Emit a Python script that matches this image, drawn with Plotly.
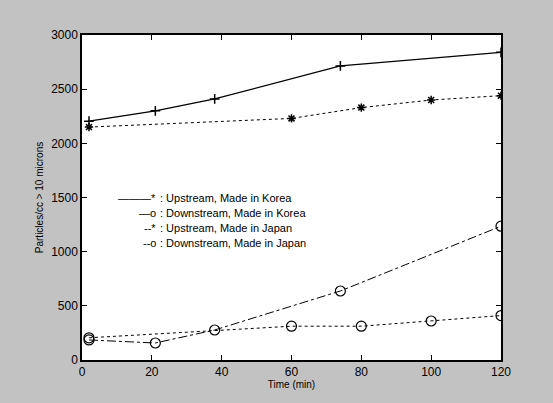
import plotly.graph_objects as go

# Data
x_korea = [2, 21, 38, 74, 120]
up_korea = [2205, 2300, 2410, 2715, 2840]
down_korea = [185, 157, 277, 637, 1235]

x_japan = [2, 60, 80, 100, 120]
up_japan = [2150, 2230, 2330, 2400, 2440]
down_japan = [205, 312, 312, 360, 410]

x_ticks = [0, 20, 40, 60, 80, 100, 120]
y_ticks = [0, 500, 1000, 1500, 2000, 2500, 3000]

legend_keys = ["\u2014\u2014\u2014*", "\u2014o", "--*", "--o"]
legend_texts = [": Upstream, Made in Korea", ": Downstream, Made in Korea",
                ": Upstream, Made in Japan", ": Downstream, Made in Japan"]

W, H = 553, 403
L, R, T, B = 82, 52, 35, 43

fig = go.Figure()
fig.add_trace(go.Scatter(x=x_korea, y=up_korea, name=legend_texts[0], mode="lines+markers",
                         line=dict(color="black", width=1.2, dash="solid"),
                         marker=dict(symbol="cross-thin-open", size=7, color="black",
                                     line=dict(color="black", width=1.5))))
fig.add_trace(go.Scatter(x=x_korea, y=down_korea, name=legend_texts[1], mode="lines+markers",
                         line=dict(color="black", width=1, dash="dashdot"),
                         marker=dict(symbol="circle-open", size=10, color="black",
                                     line=dict(color="black", width=1.2))))
fig.add_trace(go.Scatter(x=x_japan, y=up_japan, name=legend_texts[2], mode="lines+markers",
                         line=dict(color="black", width=1, dash="dot"),
                         marker=dict(symbol="asterisk-open", size=7, color="black",
                                     line=dict(color="black", width=1.5))))
fig.add_trace(go.Scatter(x=x_japan, y=down_japan, name=legend_texts[3], mode="lines+markers",
                         line=dict(color="black", width=1, dash="dot"),
                         marker=dict(symbol="circle-open", size=10, color="black",
                                     line=dict(color="black", width=1.2))))

# text legend (as in the original figure)
ph = H - T - B
pw = W - L - R
legend_py = [198, 213, 228, 243]
for key, txt, py in zip(legend_keys, legend_texts, legend_py):
    yp = (H - B - py) / ph
    fig.add_annotation(xref="paper", yref="paper", x=(158 - L) / pw, y=yp,
                       text=key, showarrow=False, xanchor="right", yanchor="middle",
                       font=dict(size=11, color="black"))
    fig.add_annotation(xref="paper", yref="paper", x=(158 - L) / pw, y=yp,
                       text=txt, showarrow=False, xanchor="left", yanchor="middle",
                       font=dict(size=11, color="black"))

axis_common = dict(showgrid=False, zeroline=False, showline=True, linecolor="black",
                   linewidth=1.5, mirror="ticks", ticks="inside", ticklen=5,
                   tickcolor="black",
                   tickfont=dict(family="Liberation Sans, Arial", size=12, color="black"))

fig.update_layout(
    width=W, height=H,
    margin=dict(l=L, r=R, t=T, b=B),
    paper_bgcolor="#c2c2c2", plot_bgcolor="white",
    font=dict(family="Liberation Sans, Arial", color="black"),
    xaxis=dict(range=[0, 120], tickvals=x_ticks,
               title=dict(text="Time (min)", font=dict(size=10), standoff=0),
               **axis_common),
    yaxis=dict(range=[0, 3000], tickvals=y_ticks,
               title=dict(text="Particles/cc > 10 microns", font=dict(size=10), standoff=6),
               **axis_common),
    showlegend=False,
)

fig.write_html("out.html", config={"displayModeBar": False},
               post_script="document.body.style.margin='0';document.body.style.background='#c2c2c2';")
